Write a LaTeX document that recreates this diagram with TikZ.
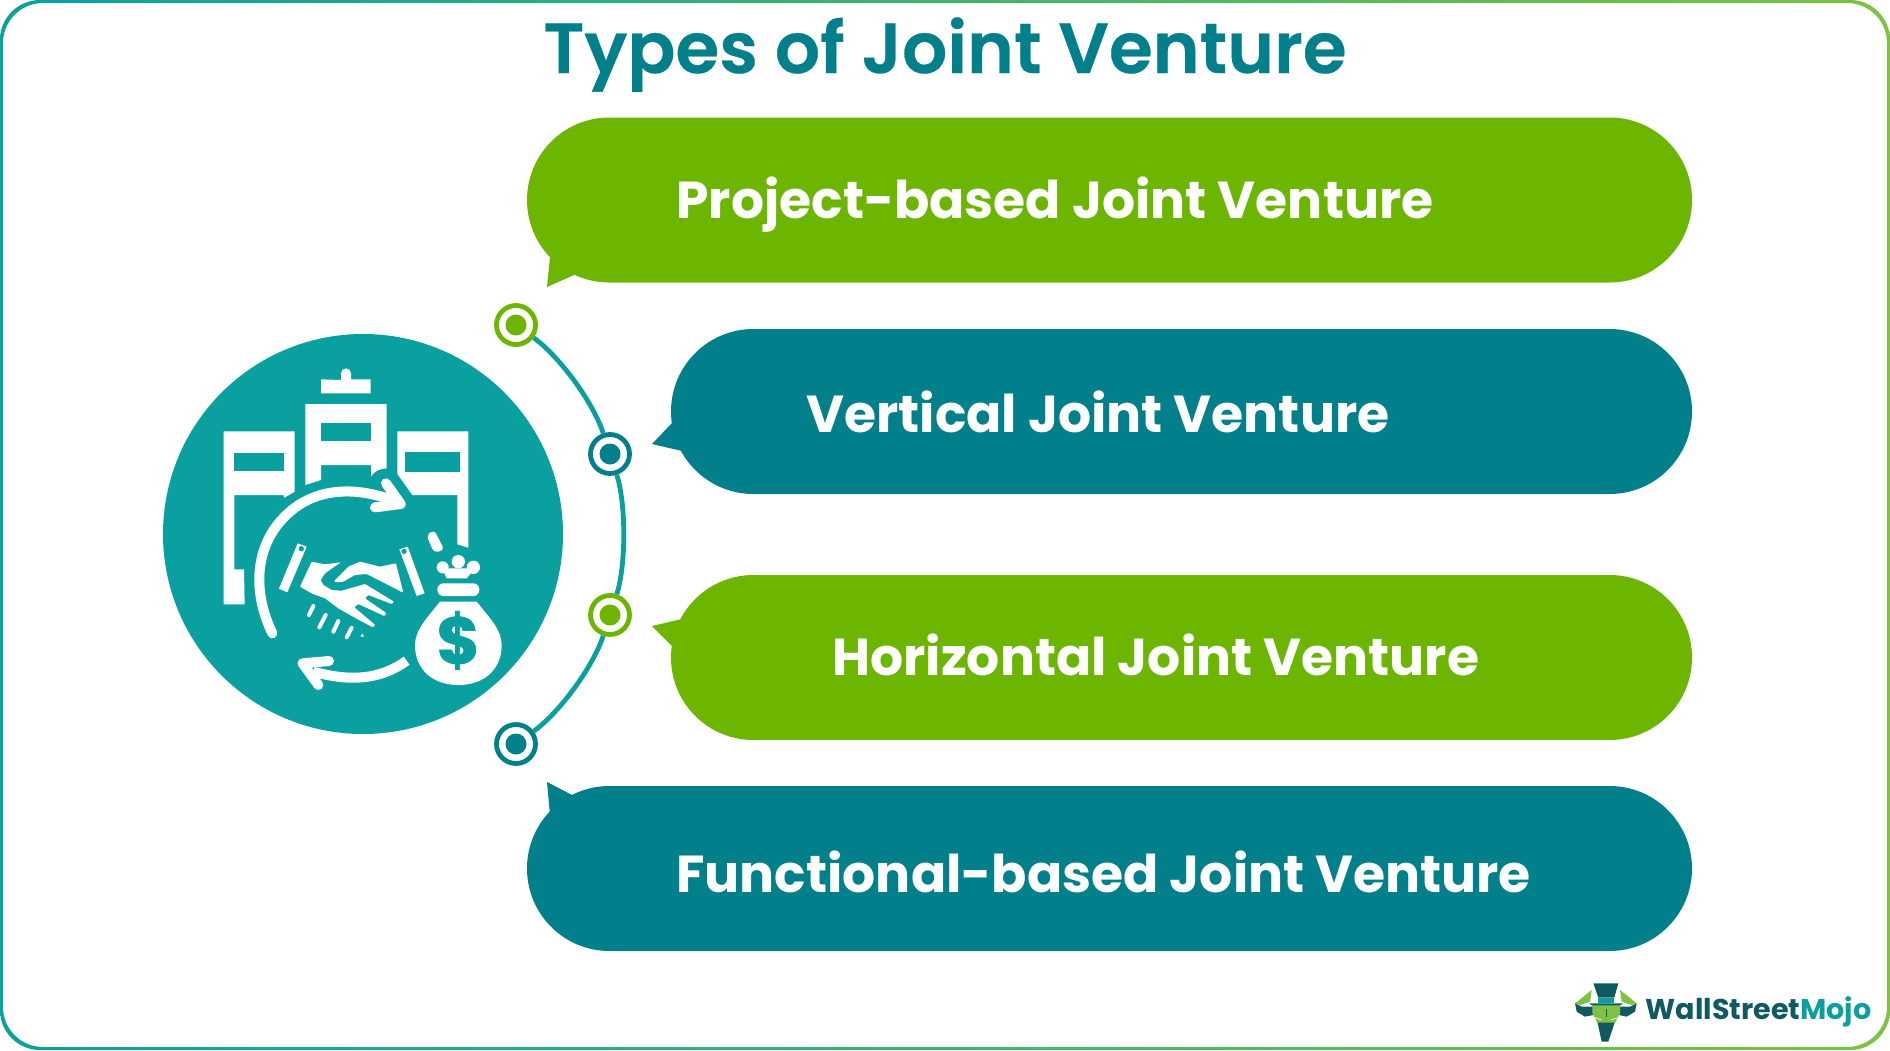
\documentclass[tikz,border=0pt]{standalone}
\usepackage{fontspec}
\setmainfont{Poppins}
\newfontfamily\titlefont[FakeBold=0.4]{Poppins SemiBold}
\newfontfamily\labelfont{Poppins Bold}
\newfontfamily\dollarfont[FakeBold=1.2]{Poppins Bold}
\usetikzlibrary{calc}
\definecolor{jvgreen}{HTML}{6CB500}
\definecolor{jvteal}{HTML}{017F8B}
\definecolor{jvcircle}{HTML}{0BA0A0}
\definecolor{wsmdark}{HTML}{0E5A60}
\definecolor{wsmgreen}{HTML}{7DC242}
\tikzset{
  bubble/.style={rectangle,rounded corners=41.2pt,minimum width=#1,minimum height=82.5pt,inner sep=0pt},
  lab/.style={anchor=base west,inner sep=0pt,text=white,font=\labelfont\fontsize{26}{30}\selectfont},
  ringnode/.style={circle,draw=#1,line width=2.4pt,fill=white,minimum size=19.5pt,inner sep=0pt},
  dotnode/.style={circle,fill=#1,minimum size=10.5pt,inner sep=0pt},
  arcline/.style={draw=jvcircle,line width=2.4pt},
  iconw/.style={fill=white},
  icont/.style={fill=jvcircle},
  stroke/.style={draw=white,line width=#1,line cap=round,line join=round}
}
\begin{document}
\begin{tikzpicture}[x=0.5pt,y=-0.5pt]
\useasboundingbox (0,0) rectangle (1890,1050);
% frame
\shade[left color=jvcircle,right color=wsmgreen,even odd rule,rounded corners=20pt]
  (0,0) rectangle (1890,1050) (3,3) rectangle (1887,1047);
% title
\node[anchor=base west,inner sep=0pt,text=jvteal,font=\titlefont\fontsize{35.5}{40}\selectfont] (title) at (543,73) {Types of Joint Venture};
% bubbles
\node[bubble=582.5pt,fill=jvgreen] (b1) at ({(527+1692)/2},200) {};
\node[bubble=510.5pt,fill=jvteal] (b2) at ({(671+1692)/2},411.5) {};
\node[bubble=510.5pt,fill=jvgreen] (b3) at ({(671+1692)/2},657.5) {};
\node[bubble=582.5pt,fill=jvteal] (b4) at ({(527+1692)/2},868.5) {};
\fill[jvgreen] (550,257) -- (547,287) -- (574,275) -- (600,240) -- cycle;
\fill[jvteal] (672,423) -- (652,444) -- (682,451) -- (720,430) -- cycle;
\fill[jvgreen] (672,646) -- (652,626) -- (682,619) -- (720,640) -- cycle;
\fill[jvteal] (550,815) -- (547,782) -- (574,796) -- (600,830) -- cycle;
\node[lab] (t1) at (676,218) {Project-based Joint Venture};
\node[lab] (t2) at (806,432) {Vertical Joint Venture};
\node[lab] (t3) at (832,675) {Horizontal Joint Venture};
\node[lab] (t4) at (676,892) {Functional-based Joint Venture};
% big circle
\node[circle,fill=jvcircle,minimum size=200pt,inner sep=0pt] (hub) at (363,534) {};
% timeline
\node[ringnode=jvgreen] (n1) at (516,325) {};
\node[ringnode=jvteal] (n2) at (610,454) {};
\node[ringnode=jvgreen] (n3) at (610,615) {};
\node[ringnode=jvteal] (n4) at (516,744) {};
\draw[arcline] (n1) to[bend left=18,looseness=0.7] (n2);
\draw[arcline] (n2) to[bend left=18,looseness=0.65] (n3);
\draw[arcline] (n3) to[bend left=18,looseness=0.7] (n4);
\node[dotnode=jvgreen] (d1) at (n1) {};
\node[dotnode=jvteal] (d2) at (n2) {};
\node[dotnode=jvgreen] (d3) at (n3) {};
\node[dotnode=jvteal] (d4) at (n4) {};
% icon, in zoom coordinates
\begin{scope}[shift={(150,320)},x=0.16667pt,y=-0.16667pt]
 % centre building
 \fill[iconw] (573,180) -- (573,160) arc[start angle=180,end angle=360,radius=15] -- (603,178) -- (662,178) -- (662,220) -- (513,220) -- (513,178) -- cycle;
 \fill[iconw] (466,252) -- (710,252) -- (710,445) .. controls (690,445) and (670,455) .. (663,470) -- (663,435) -- (513,435) -- (513,480) -- (466,495) -- cycle;
 \fill[icont] (513,308) rectangle (662,362);
 % left building
 \fill[iconw] (221,334) -- (434,334) -- (434,515) -- (403,533) -- (400,525) -- (253,525) -- (253,748) -- (282,748) -- (284,853) -- (221,853) -- cycle;
 \fill[icont] (253,398) rectangle (402,453);
 % right building
 \fill[iconw] (742,334) -- (955,334) -- (955,683) -- (922,673) -- (922,525) -- (787,525) -- (742,462) -- cycle;
 \fill[icont] (766,396) rectangle (930,456);
 % arrows
 \draw[draw=jvcircle,line width=13pt,line cap=round,line join=round] (708,490) -- (752,552) -- (675,562);
 \draw[stroke=5pt] (367,940) .. controls (300,800) and (320,660) .. (420,575) .. controls (500,505) and (620,495) .. (745,548);
 \draw[stroke=5pt] (708,490) -- (752,552) -- (675,562);
 \draw[stroke=5pt,line cap=butt] (770,1022) .. controls (690,1080) and (600,1085) .. (490,1055);
 \draw[stroke=5pt] (537,1023) -- (458,1030) -- (505,1095);
 \fill[iconw,rounded corners=2pt] (829,645) -- (853,630) -- (883,690) -- (852,698) -- cycle;
 % handshake
 \fill[iconw,rounded corners=0.4pt] (485,725) -- (525,733) -- (572,727) -- (525,760) -- (512,780) -- (520,795) -- (545,810) -- (575,812) -- (645,792) -- (732,845) -- (725,852) -- (655,825) -- (645,835) -- (710,880) -- (703,888) -- (625,852) -- (613,862) -- (676,915) -- (668,922) -- (600,885) -- (565,865) -- (525,835) -- (485,820) -- (450,800) -- cycle;
 \fill[iconw,rounded corners=0.4pt] (552,783) -- (595,740) -- (630,725) -- (690,740) -- (738,730) -- (760,818) -- (748,812) -- (650,762) -- (615,765) -- (580,785) -- (560,787) -- cycle;
 \fill[iconw] (443,670) -- (470,680) -- (412,817) -- (387,806) -- cycle;
 \fill[icont] (454,686) circle[radius=8];
 \fill[iconw] (748,688) -- (773,680) -- (824,820) -- (800,828) -- cycle;
 \fill[icont] (762,694) circle[radius=8];
 \draw[stroke=2pt] (490,858) -- (477,885) (527,885) -- (508,922) (565,903) -- (550,935) (605,923) -- (590,952);
 \fill[iconw] (637,940) -- (642,950) -- (632,950) -- cycle;
 % money bag
 \fill[iconw] (878,742) circle[radius=18] (925,725) circle[radius=20] (970,742) circle[radius=20];
 \fill[iconw] (875,745) -- (975,745) -- (950,775) -- (890,775) -- cycle;
 \fill[iconw,rounded corners=3pt] (862,790) rectangle (988,828);
 \fill[iconw] (870,845) -- (980,845) .. controls (1020,895) and (1055,930) .. (1055,975) .. controls (1055,1050) and (1000,1095) .. (925,1095) .. controls (850,1095) and (795,1050) .. (795,975) .. controls (795,930) and (830,895) .. (870,845);
 \node[inner sep=0pt,text=jvcircle,font=\dollarfont\fontsize{33}{33}\selectfont] (dollar) at (925,961) {\$};
\end{scope}
% logo
\begin{scope}[shift={(1540,960)},x=0.16667pt,y=-0.16667pt]
 \fill[wsmgreen] (155,90) -- (105,130) -- (120,135) -- (150,125) -- cycle;
 \fill[wsmgreen] (240,90) -- (290,130) -- (275,135) -- (245,125) -- cycle;
 \fill[wsmdark] (105,130) -- (110,155) -- (135,170) -- (160,165) -- (160,140) -- (125,140) -- cycle;
 \fill[wsmdark] (290,130) -- (285,155) -- (260,170) -- (237,165) -- (237,140) -- (270,140) -- cycle;
 \fill[wsmdark] (172,185) -- (225,185) -- (205,245) -- (185,245) -- cycle;
 \fill[wsmgreen] (157,135) -- (240,135) -- (240,160) -- (225,188) -- (172,188) -- (157,160) -- cycle;
 \fill[wsmdark] (160,70) -- (235,70) -- (223,113) -- (175,113) -- cycle;
 \fill[wsmdark] (147,130) -- (250,130) -- (240,136) -- (155,136) -- cycle;
 \fill[jvcircle] (175,113) rectangle (223,130);
 \draw[white,line width=0.35pt] (165,173) -- (185,180) (232,173) -- (212,180);
 \draw[wsmdark,line width=0.3pt] (199,148) -- (199,170);
 \node[anchor=base west,inner sep=0pt,font=\labelfont\fontsize{14.3}{16}\selectfont] (logo) at (316,178) {\textcolor{wsmdark}{WallStreet}\textcolor{jvcircle}{Mojo}};
\end{scope}
\end{tikzpicture}
\end{document}
